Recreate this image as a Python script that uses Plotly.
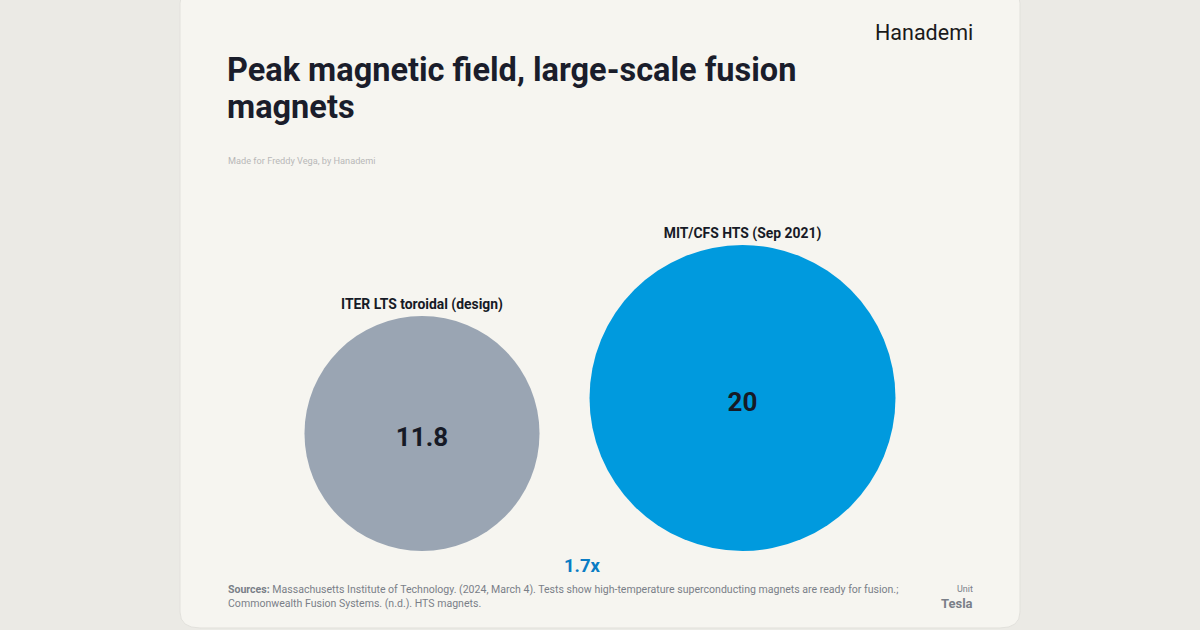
import plotly.graph_objects as go

# Data
magnets = ["ITER LTS toroidal (design)", "MIT/CFS HTS (Sep 2021)"]
peak_field = [11.8, 20]
value_labels = ["11.8", "20"]
colors = ["#9aa5b3", "#009ade"]

# Circle area proportional to value, bottoms aligned
max_diameter = 306
baseline = 551
diameters = [max_diameter * (v / max(peak_field)) ** 0.5 for v in peak_field]
centers = [baseline - d / 2 for d in diameters]
label_y = [baseline - d - 10 for d in diameters]
ratio = max(peak_field) / min(peak_field)

fig = go.Figure()

fig.add_trace(go.Scatter(
    x=magnets, y=centers, mode="markers",
    marker=dict(size=diameters, sizemode="diameter", color=colors,
                line=dict(width=0), opacity=1),
    hoverinfo="skip", showlegend=False,
))

# Values inside the circles
fig.add_trace(go.Scatter(
    x=magnets, y=[c + 6 for c in centers], mode="text",
    text=["<b>" + t + "</b>" for t in value_labels],
    textposition="middle center",
    textfont=dict(family="Roboto", size=26, color="#161a26"),
    hoverinfo="skip", showlegend=False,
))

# Category labels above circles
fig.add_trace(go.Scatter(
    x=magnets, y=label_y, mode="text",
    text=["<b>" + m + "</b>" for m in magnets],
    textposition="middle center",
    textfont=dict(family="Roboto", size=13.9, color="#161a26"),
    hoverinfo="skip", showlegend=False,
))

# Card background
fig.add_shape(type="path", xref="paper", yref="paper", layer="below",
              path=("M 0.1583,1.02 L 0.8333,1.02 Q 0.85,1.02 0.85,0.995 "
                    "L 0.85,0.0286 Q 0.85,0.0032 0.8333,0.0032 "
                    "L 0.1667,0.0032 Q 0.15,0.0032 0.15,0.0286 "
                    "L 0.15,0.995 Q 0.15,1.02 0.1667,1.02 Z"),
              fillcolor="#f6f5f0", line=dict(color="#e2e1dc", width=1))

title_font = dict(family="Roboto", size=32.5, color="#1a1d2b")
ann = [
    dict(x=225 / 1200, y=1 - 70 / 630, xanchor="left", yanchor="middle",
         text="<b>Peak magnetic field, large-scale fusion</b>", font=title_font),
    dict(x=225 / 1200, y=1 - 107 / 630, xanchor="left", yanchor="middle",
         text="<b>magnets</b>", font=title_font),
    dict(x=226 / 1200, y=1 - 160 / 630, xanchor="left", yanchor="middle",
         text="Made for Freddy Vega, by Hanademi",
         font=dict(family="Roboto", size=9.2, color="#b8b8b8")),
    dict(x=975 / 1200, y=1 - 32 / 630, xanchor="right", yanchor="middle",
         text="Hanademi", font=dict(family="Roboto", size=21.5, color="#1a1a1a")),
    dict(x=582 / 1200, y=1 - 566 / 630, xanchor="center", yanchor="middle",
         text="<b>%.1fx</b>" % ratio,
         font=dict(family="Roboto", size=18.5, color="#0a7cc4")),
    dict(x=226 / 1200, y=1 - 596 / 630, xanchor="left", yanchor="middle",
         align="left",
         text=("<b>Sources:</b> Massachusetts Institute of Technology. (2024, March 4). "
               "Tests show high-temperature superconducting magnets are ready for fusion.;"
               "<br>Commonwealth Fusion Systems. (n.d.). HTS magnets."),
         font=dict(family="Roboto", size=10.55, color="#7a7f88")),
    dict(x=975 / 1200, y=1 - 589 / 630, xanchor="right", yanchor="middle",
         text="Unit", font=dict(family="Roboto", size=9, color="#7a7f88")),
    dict(x=975 / 1200, y=1 - 603 / 630, xanchor="right", yanchor="middle",
         text="<b>Tesla</b>", font=dict(family="Roboto", size=13, color="#7a7f88")),
]
for a in ann:
    a.update(xref="paper", yref="paper", showarrow=False)

fig.update_layout(
    width=1200, height=630,
    margin=dict(l=0, r=0, t=0, b=0),
    paper_bgcolor="#ebeae5", plot_bgcolor="rgba(0,0,0,0)",
    xaxis=dict(type="category", range=[-422 / 320.5, (1200 - 422) / 320.5],
               visible=False, fixedrange=True),
    yaxis=dict(range=[630, 0], visible=False, fixedrange=True),
    annotations=ann,
)

fig.write_html("out.html", config={"displayModeBar": False},
               post_script="document.body.style.margin='0';"
                           "document.body.style.overflow='hidden';")
